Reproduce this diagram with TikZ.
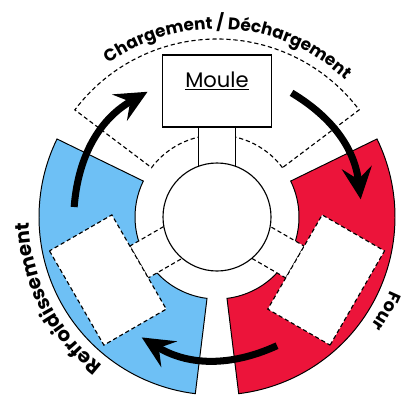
\documentclass[tikz,border=0pt]{standalone}
\usepackage{fontspec}
\setmainfont{Poppins}
\usetikzlibrary{arrows.meta,decorations.text}

\definecolor{coolblue}{RGB}{110,192,245}
\definecolor{ovenred}{RGB}{236,20,58}

\begin{document}
\begin{tikzpicture}[
    sector/.style={draw, line width=0.7pt},
    zone/.style={draw, line width=0.8pt, dash pattern=on 3pt off 2pt},
    hole/.style={dash pattern=on 3pt off 2pt},
    station/.style={draw, fill=white, minimum width=2.72cm, minimum height=1.8cm, line width=0.8pt},
    arm/.style={draw, fill=white, minimum width=0.92cm, minimum height=1.5cm, line width=0.8pt},
    hub/.style={draw, circle, fill=white, minimum size=2.7cm, line width=0.8pt},
    flow/.style={-{Stealth[length=8mm, width=7.5mm, inset=3mm]}, line width=5pt},
    ringlabel/.style={decorate, decoration={text along path, text align=center, text={#1}}}
  ]
    \useasboundingbox (-5.425,-4.5) rectangle (4.6,5.425);

    % cooling and oven sectors
    \draw[sector, fill=coolblue] (154:2.05) arc[start angle=154, end angle=263, radius=2.05]
      -- (263:4.45) arc[start angle=263, end angle=154, radius=4.45] -- cycle;
    \draw[sector, fill=ovenred] (-83:2.05) arc[start angle=-83, end angle=26, radius=2.05]
      -- (26:4.45) arc[start angle=26, end angle=-83, radius=4.45] -- cycle;
    % loading zone
    \draw[zone] (37:2.05) arc[start angle=37, end angle=143, radius=2.05]
      -- (143:4.45) arc[start angle=143, end angle=37, radius=4.45] -- cycle;

    % arms and hub
    \node[arm] (loadarm) at (90:1.5) {};
    \node[arm, hole, rotate=120] (coolarm) at (210:1.5) {};
    \node[arm, hole, rotate=240] (ovenarm) at (330:1.5) {};
    \node[hub] (hub) at (0,0) {};

    % stations
    \node[station] (moule) at (90:3.15) {};
    \node[font=\fontsize{15}{18}\selectfont] (mouletext) at ([yshift=7pt]moule.center) {\underline{Moule}};
    \node[station, hole, rotate=120] (coolbox) at (210:3.15) {};
    \node[station, hole, rotate=240] (ovenbox) at (330:3.15) {};

    % rotation arrows
    \coordinate (coolstart) at (176:3.58);
    \coordinate (coolend) at (119:3.58);
    \coordinate (loadstart) at (59:3.62);
    \coordinate (loadend) at (7:3.62);
    \coordinate (ovenstart) at (-65:3.55);
    \coordinate (ovenend) at (-122:3.55);
    \draw[flow] (coolstart) to[bend left=28] (coolend);
    \draw[flow] (loadstart) to[bend left=26] (loadend);
    \draw[flow] (ovenstart) to[bend left=28] (ovenend);

    % ring labels
    \path[ringlabel={|\bfseries\fontsize{12}{14}\selectfont|Chargement / Déchargement}]
      (146:4.7) arc[start angle=146, end angle=26, radius=4.7];
    \path[ringlabel={|\bfseries\fontsize{14}{16}\selectfont|Refroidissement}]
      (267:4.7) arc[start angle=267, end angle=147, radius=4.7];
    \path[ringlabel={|\bfseries\fontsize{12.5}{15}\selectfont|Four}]
      (31:4.72) arc[start angle=31, end angle=-89, radius=4.72];
  \end{tikzpicture}
\end{document}
